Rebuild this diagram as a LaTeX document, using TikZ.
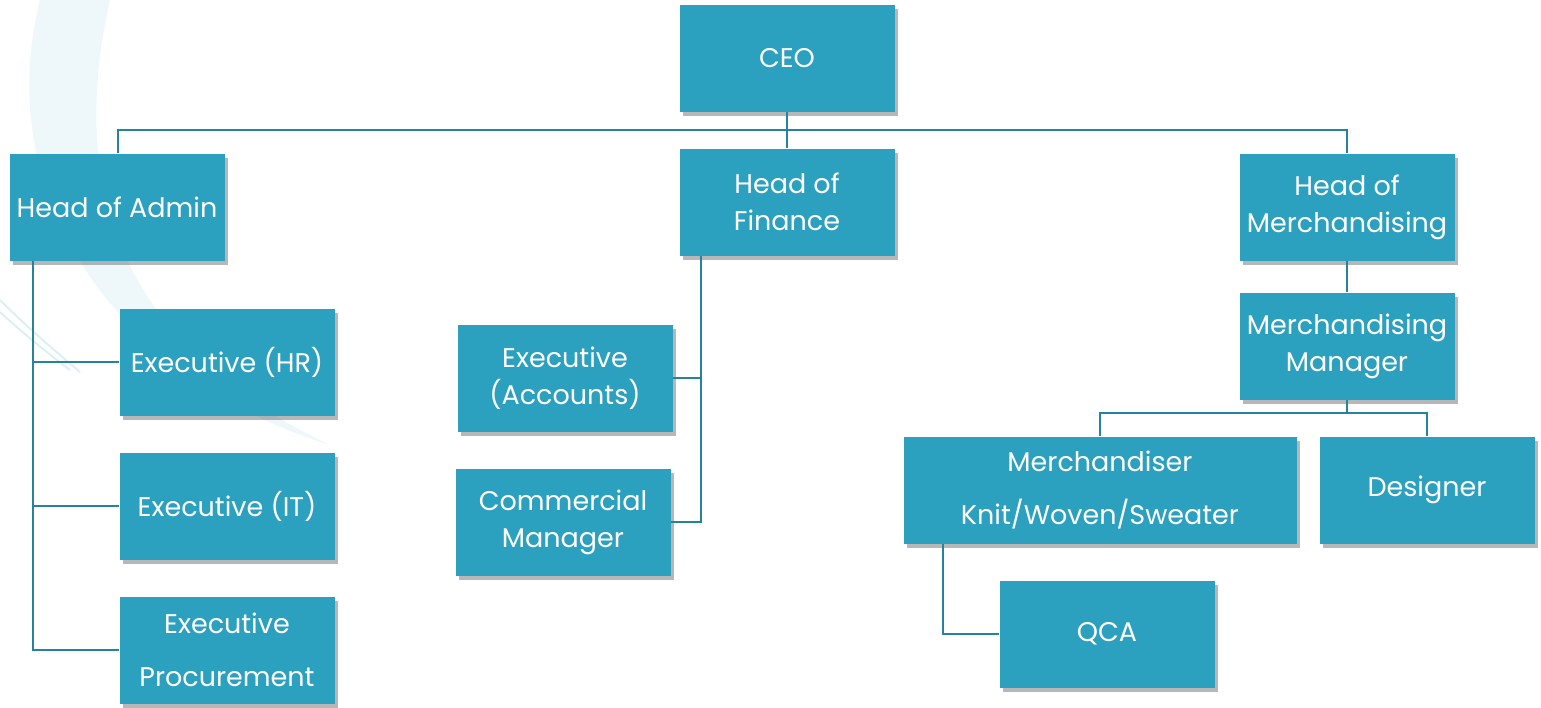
\documentclass[tikz,border=0pt]{standalone}
\usepackage{fontspec}
\setmainfont{Poppins}
\usetikzlibrary{shadows}
\definecolor{boxblue}{RGB}{44,161,191}
\definecolor{linkblue}{RGB}{38,130,158}
\definecolor{swirl}{RGB}{200,228,236}

\tikzset{
  post/.style={rectangle, fill=boxblue, text=white, align=center,
    minimum width=107.5pt, minimum height=53.5pt, inner sep=1pt,
    font=\fontsize{13.5}{18.5}\selectfont,
    drop shadow={shadow xshift=1.5pt, shadow yshift=-2pt, opacity=0.4, fill=black!70}},
  link/.style={draw=linkblue, line width=1pt}
}

\begin{document}
\begin{tikzpicture}[x=0.5pt, y=-0.5pt]
\useasboundingbox (0,0) rectangle (1541,707);
% faint swirl in the corner
\fill[swirl, opacity=0.3] (40,0) .. controls (-10,200) and (120,380) .. (330,445)
  .. controls (150,360) and (60,220) .. (110,0) -- cycle;
\draw[swirl, line width=1pt, opacity=0.6] (0,300) .. controls (30,330) and (60,355) .. (80,372);
\draw[swirl, line width=1pt, opacity=0.6] (0,312) .. controls (25,335) and (50,355) .. (70,370);

% top row
\node[post] (ceo) at (787,58) {CEO};
\node[post] (admin) at (117,207) {Head of Admin};
\node[post] (finance) at (787,202) {Head of\\Finance};
\node[post] (merch) at (1347,207) {Head of\\Merchandising};

% admin side
\node[post] (hr) at (227,362) {Executive (HR)};
\node[post] (it) at (227,506) {Executive (IT)};
\node[post] (proc) at (227,650) {Executive\\[0.6em]Procurement};

% finance side
\node[post] (acc) at (565,378) {Executive\\(Accounts)};
\node[post] (comm) at (563,522) {Commercial\\Manager};

% merchandising side
\node[post] (mmgr) at (1347,346) {Merchandising\\Manager};
\node[post, minimum width=196.5pt] (mdsr) at (1100,490) {Merchandiser\\[0.6em]Knit/Woven/Sweater};
\node[post] (dsgn) at (1427,490) {Designer};
\node[post] (qca) at (1107,634) {QCA};

% connectors
\coordinate (bus) at (787,130);
\draw[link] (ceo.south) -- (finance.north);
\draw[link] (admin.north -| 118,0) |- (bus) -| (merch.north);

\coordinate (adm) at (33,0);
\draw[link] (admin.south -| adm) |- (proc.west);
\draw[link] (hr.west) -- (hr.west -| adm);
\draw[link] (it.west) -- (it.west -| adm);

\coordinate (fin) at (701,0);
\draw[link] (finance.south -| fin) |- (comm.east);
\draw[link] (acc.east) -- (acc.east -| fin);

\draw[link] (merch.south) -- (mmgr.north);
\coordinate (mbus) at (1347,413);
\draw[link] (mmgr.south) -- (mbus);
\draw[link] (mdsr.north) |- (mbus) -| (dsgn.north);
\draw[link] (mdsr.south -| 943,0) |- (qca.west);
\end{tikzpicture}
\end{document}
